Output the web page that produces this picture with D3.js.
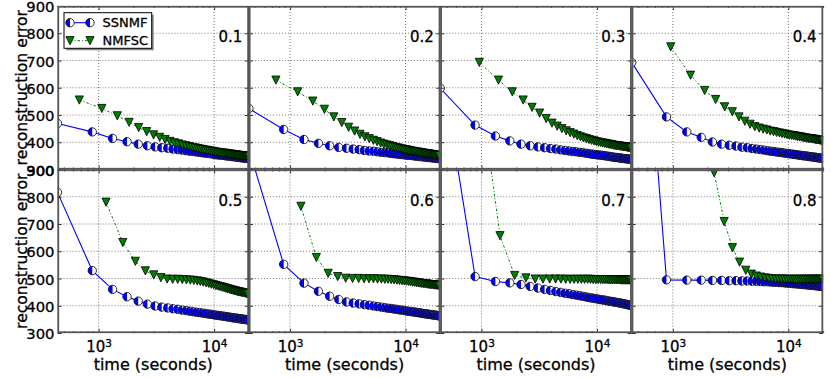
<!DOCTYPE html>
<html>
<head>
<meta charset="utf-8">
<script src="https://cdn.jsdelivr.net/npm/d3@7"></script>
<style>
  body { margin: 0; background: #fff; }
  svg { font-family: "DejaVu Sans", sans-serif; }
  text { stroke: #000; stroke-width: 0.3px; }
</style>
</head>
<body>
<svg id="chart" width="831" height="378"></svg>
<script>
// time stamps (seconds) of the SSNMF iterations, same in every panel
const ssnmfTime = [440,880,1320,1760,2200,2640,3080,3520,3960,4400,4840,5280,5720,6160,6600,7040,7480,7920,8360,8800,9240,9680,10120,10560,11000,11440,11880,12320,12760,13200,13640,14080,14520,14960,15400,15840,16280,16720,17160,17600,18040,18480,18920,19360,19800];

const ssnmf01 = [469,438,414,402,393,387,383,380,378,375,373,371,369,367,366,364,363,361,360,359,358,357,355,354,353,353,352,351,350,349,349,348,347,347,346,345,345,344,343,343,342,342,341,341,340];
const ssnmf02 = [524,447,410,396,387,381,378,375,373,370,368,367,365,363,362,361,359,358,357,356,355,354,353,352,352,351,350,349,349,348,347,347,346,345,345,344,344,343,343,342,342,341,341,340,340];
const ssnmf03 = [598,463,423,405,393,387,383,380,377,375,372,370,368,366,365,363,362,360,359,357,356,355,354,353,352,351,350,349,348,347,346,345,344,344,343,342,342,341,340,340,339,339,338,338,337];
const ssnmf04 = [693,493,438,418,401,393,389,386,382,380,377,375,373,371,369,367,366,364,363,362,360,359,358,357,356,355,354,353,352,351,350,350,349,348,347,347,346,345,345,344,343,343,342,342,341];
const ssnmf05 = [816,529,460,433,417,406,399,395,392,389,387,384,382,380,378,376,375,373,372,370,369,368,366,365,364,363,362,361,360,359,358,357,356,355,355,354,353,352,352,351,350,350,349,348,348];
const ssnmf06 = [975,552,483,453,435,423,414,410,407,404,402,399,397,395,393,391,390,388,387,385,384,383,381,380,379,378,377,376,375,374,373,372,371,370,370,369,368,367,367,366,365,365,364,363,363];
const ssnmf07 = [1307,507,489,484,478,471,465,460,456,452,449,446,444,441,439,437,435,433,431,429,428,426,425,423,422,421,420,418,417,416,415,414,413,412,411,410,409,408,407,406,405,404,403,402,401];
const ssnmf08 = [2128,495,494,494,493,493,492,492,491,491,490,490,489,488,488,487,486,486,485,485,484,483,483,482,481,481,480,480,479,478,478,477,477,476,476,475,475,474,474,473,473,472,472,471,471];

// NMFSC time stamps per panel
const nmfscTime01 = [680,1065,1450,1835,2220,2605,2990,3375,3760,4145,4530,4915,5300,5685,6070,6455,6840,7225,7610,7995,8380,8765,9150,9535,9920,10305,10690,11075,11460,11845,12230,12615,13000,13385,13770,14155,14540,14925,15310,15695,16080,16465,16850,17235,17620,18005,18390,18775,19160,19545,19930];
const nmfscTime02 = [754,1164,1574,1984,2394,2804,3214,3624,4034,4444,4854,5264,5674,6084,6494,6904,7314,7724,8134,8544,8954,9364,9774,10184,10594,11004,11414,11824,12234,12644,13054,13464,13874,14284,14694,15104,15514,15924,16334,16744,17154,17564,17974,18384,18794,19204,19614];
const nmfscTime03 = [958,1404,1850,2296,2742,3188,3634,4080,4526,4972,5418,5864,6310,6756,7202,7648,8094,8540,8986,9432,9878,10324,10770,11216,11662,12108,12554,13000,13446,13892,14338,14784,15230,15676,16122,16568,17014,17460,17906,18352,18798,19244,19690];
const nmfscTime04 = [958,1421,1884,2347,2810,3273,3736,4199,4662,5125,5588,6051,6514,6977,7440,7903,8366,8829,9292,9755,10218,10681,11144,11607,12070,12533,12996,13459,13922,14385,14848,15311,15774,16237,16700,17163,17626,18089,18552,19015,19478,19941];
const nmfscTime05 = [1158,1618,2078,2538,2998,3458,3918,4378,4838,5298,5758,6218,6678,7138,7598,8058,8518,8978,9438,9898,10358,10818,11278,11738,12198,12658,13118,13578,14038,14498,14958,15418,15878,16338,16798,17258,17718,18178,18638,19098,19558];
const nmfscTime06 = [1241,1689,2137,2585,3033,3481,3929,4377,4825,5273,5721,6169,6617,7065,7513,7961,8409,8857,9305,9753,10201,10649,11097,11545,11993,12441,12889,13337,13785,14233,14681,15129,15577,16025,16473,16921,17369,17817,18265,18713,19161,19609];
const nmfscTime07 = [957,1447,1937,2427,2917,3407,3897,4387,4877,5367,5857,6347,6837,7327,7817,8307,8797,9287,9777,10267,10757,11247,11737,12227,12717,13207,13697,14187,14677,15167,15657,16147,16637,17127,17617,18107,18597,19087,19577];
const nmfscTime08 = [2280,2780,3280,3780,4280,4780,5280,5780,6280,6780,7280,7780,8280,8780,9280,9780,10280,10780,11280,11780,12280,12780,13280,13780,14280,14780,15280,15780,16280,16780,17280,17780,18280,18780,19280,19780];

const nmfsc01 = [555,524,497,473,454,439,427,418,410,403,398,394,390,387,384,381,379,377,375,373,371,370,368,367,366,364,363,362,361,360,360,359,358,357,356,356,355,354,354,353,352,352,351,351,350,350,350,349,349,348,348];
const nmfsc02 = [628,585,551,521,493,472,455,441,429,420,413,407,402,397,393,390,387,384,381,379,377,375,373,372,370,369,367,366,365,364,363,362,361,360,359,358,358,357,356,355,355,354,353,353,352,352,351];
const nmfsc03 = [693,628,585,555,528,507,487,470,459,450,442,435,430,424,420,416,413,410,407,405,402,400,399,397,396,394,393,392,391,389,388,387,387,386,385,384,383,383,382,381,380,380,379];
const nmfsc04 = [750,646,590,557,530,512,493,477,466,457,452,448,445,441,439,436,434,432,430,428,426,425,424,422,421,420,419,417,416,415,414,413,413,412,411,410,409,409,408,407,406,406];
const nmfsc05 = [780,632,563,528,513,503,498,497,497,496,495,494,493,491,489,487,484,482,479,477,474,472,470,468,466,464,462,460,458,457,455,454,452,451,450,449,448,447,446,445,444];
const nmfsc06 = [765,577,519,507,501,500,500,499,499,499,498,498,497,497,496,495,494,493,492,491,490,489,488,487,486,485,484,483,482,481,481,480,479,478,478,477,477,476,476,475,475,474];
const nmfsc07 = [1220,657,511,502,498,498,498,498,498,497,497,497,497,497,497,497,497,496,496,496,496,496,496,496,495,495,495,495,495,495,495,494,494,494,494,494,494,494,494];
const nmfsc08 = [888,709,613,560,530,516,509,505,502,500,499,498,498,498,498,497,497,497,497,497,497,497,497,497,497,497,497,497,497,497,497,497,497,497,497,497];

const panelLabels = ["0.1","0.2","0.3","0.4","0.5","0.6","0.7","0.8"];
const yTicks = [300,400,500,600,700,800,900];
const xMajor = [1000, 10000];
const seriesNames = ["SSNMF", "NMFSC"];

const ssnmfAll = [ssnmf01,ssnmf02,ssnmf03,ssnmf04,ssnmf05,ssnmf06,ssnmf07,ssnmf08];
const nmfscTimeAll = [nmfscTime01,nmfscTime02,nmfscTime03,nmfscTime04,nmfscTime05,nmfscTime06,nmfscTime07,nmfscTime08];
const nmfscAll = [nmfsc01,nmfsc02,nmfsc03,nmfsc04,nmfsc05,nmfsc06,nmfsc07,nmfsc08];

const leftX = 57.5, topY = 6, pw = 191.4, ph = 163.5;
const blue = "#0000ff", green = "#008000";

const x = d3.scaleLog().domain([440, 20000]).range([0, pw]);
const y = d3.scaleLinear().domain([300, 900]).range([ph, 0]);
const xMinor = x.ticks().filter((t) => xMajor.indexOf(t) < 0);

const svg = d3.select("#chart");
const defs = svg.append("defs");
defs.append("clipPath").attr("id", "clip")
  .append("rect").attr("width", pw).attr("height", ph);

const line = d3.line().x((d) => x(d[0])).y((d) => y(d[1]));
const r = 4.2, tri = 4.1;
const halfLeft = `M0,${-r}A${r},${r} 0 0 0 0,${r}Z`;
const triDown = `M${-tri},${-tri}L${tri},${-tri}L0,${tri}Z`;

function ssMarker(sel) {
  sel.append("circle").attr("r", r).attr("fill", "#fff");
  sel.append("path").attr("d", halfLeft).attr("fill", blue);
  sel.append("circle").attr("r", r).attr("fill", "none")
    .attr("stroke", "#000").attr("stroke-width", 0.8);
}

function nmMarker(sel) {
  sel.append("path").attr("d", triDown).attr("fill", green)
    .attr("stroke", "#000").attr("stroke-width", 0.8);
}

panelLabels.forEach((label, i) => {
  const col = i % 4, row = Math.floor(i / 4);
  const g = svg.append("g")
    .attr("transform", `translate(${leftX + col * pw},${topY + row * ph})`);

  // grid
  const grid = g.append("g").attr("stroke", "#555").attr("stroke-width", 0.8)
    .attr("stroke-dasharray", "1,2");
  grid.selectAll(".gx").data(xMajor).enter().append("line")
    .attr("x1", (d) => x(d)).attr("x2", (d) => x(d)).attr("y1", 0).attr("y2", ph);
  grid.selectAll(".gy").data(yTicks.slice(1, -1)).enter().append("line")
    .attr("y1", (d) => y(d)).attr("y2", (d) => y(d)).attr("x1", 0).attr("x2", pw);

  const plot = g.append("g").attr("clip-path", "url(#clip)");
  const ss = d3.zip(ssnmfTime, ssnmfAll[i]);
  const nm = d3.zip(nmfscTimeAll[i], nmfscAll[i]);

  plot.append("path").attr("d", line(ss)).attr("fill", "none")
    .attr("stroke", blue).attr("stroke-width", 1.1);
  plot.append("g").selectAll("g").data(ss).enter().append("g")
    .attr("transform", (d) => `translate(${x(d[0])},${y(d[1])})`)
    .call(ssMarker);

  plot.append("path").attr("d", line(nm)).attr("fill", "none")
    .attr("stroke", green).attr("stroke-width", 1)
    .attr("stroke-dasharray", "2.5,2,1,2");
  plot.append("g").selectAll("g").data(nm).enter().append("g")
    .attr("transform", (d) => `translate(${x(d[0])},${y(d[1])})`)
    .call(nmMarker);

  // ticks (pointing inward)
  g.append("g").call(d3.axisLeft(y).tickValues(yTicks).tickSize(-4).tickFormat(""));
  g.append("g").attr("transform", `translate(${pw},0)`)
    .call(d3.axisRight(y).tickValues(yTicks).tickSize(-4).tickFormat(""));
  g.append("g").attr("transform", `translate(0,${ph})`)
    .call(d3.axisBottom(x).tickValues(xMajor).tickSize(-4).tickFormat(""));
  g.append("g").attr("transform", `translate(0,${ph})`)
    .call(d3.axisBottom(x).tickValues(xMinor).tickSize(-2).tickFormat(""));
  g.append("g").call(d3.axisTop(x).tickValues(xMajor).tickSize(-4).tickFormat(""));
  g.append("g").call(d3.axisTop(x).tickValues(xMinor).tickSize(-2).tickFormat(""));
  g.selectAll(".domain").remove();
  g.selectAll(".tick line").attr("stroke-width", 0.8);

  // frame
  g.append("rect").attr("x", 0.75).attr("y", 0.75)
    .attr("width", pw - 1.5).attr("height", ph - 1.5)
    .attr("fill", "none").attr("stroke", "#555").attr("stroke-width", 1.8);

  g.append("text").attr("x", pw - 6.5).attr("y", 36)
    .attr("text-anchor", "end").attr("font-size", 15).text(label);

  if (col === 0) {
    const ya = g.append("g").call(d3.axisLeft(y).tickValues(yTicks)
      .tickSize(0).tickPadding(3));
    ya.select(".domain").remove();
    ya.attr("font-family", null).attr("font-size", 14.8);
    ya.selectAll(".tick text").attr("dy", "0.38em");
    g.append("text")
      .attr("transform", `translate(${26.5 - leftX},${ph / 2}) rotate(-90)`)
      .attr("text-anchor", "middle").attr("font-size", 15.6)
      .text("reconstruction error");
  }

  if (row === 1) {
    const xa = g.append("g").attr("transform", `translate(0,${ph})`)
      .call(d3.axisBottom(x).tickValues(xMajor).tickSize(0).tickPadding(8));
    xa.select(".domain").remove();
    xa.attr("font-family", null).attr("font-size", 15);
    xa.selectAll(".tick text").each(function (d) {
      const t = d3.select(this).text("10");
      t.append("tspan").attr("dy", "-0.45em").attr("font-size", 10.5)
        .text(Math.round(Math.log10(d)));
    });
    g.append("text").attr("x", pw / 2).attr("y", ph + 36.5)
      .attr("text-anchor", "middle").attr("font-size", 16)
      .text("time (seconds)");
  }

  if (i === 0) {
    const lg = g.append("g").attr("transform", "translate(6.5,6.7)");
    lg.append("rect").attr("x", 2).attr("y", 2).attr("width", 87.7).attr("height", 35.6)
      .attr("fill", "#888");
    lg.append("rect").attr("width", 87.7).attr("height", 35.6)
      .attr("fill", "#fff").attr("stroke", "#000").attr("stroke-width", 1);
    const rows = [10, 28];
    lg.append("line").attr("x1", 6).attr("x2", 26).attr("y1", rows[0]).attr("y2", rows[0])
      .attr("stroke", blue).attr("stroke-width", 1.1);
    lg.append("g").selectAll("g").data([6, 26]).enter().append("g")
      .attr("transform", (d) => `translate(${d},${rows[0]})`).call(ssMarker);
    lg.append("line").attr("x1", 6).attr("x2", 26).attr("y1", rows[1]).attr("y2", rows[1])
      .attr("stroke", green).attr("stroke-width", 1).attr("stroke-dasharray", "2.5,2,1,2");
    lg.append("g").selectAll("g").data([6, 26]).enter().append("g")
      .attr("transform", (d) => `translate(${d},${rows[1]})`).call(nmMarker);
    lg.selectAll(".lbl").data(seriesNames).enter().append("text")
      .attr("x", 38.5).attr("y", (d, k) => rows[k]).attr("dy", "0.36em")
      .attr("font-size", 13).text((d) => d);
  }
});
</script>
</body>
</html>
